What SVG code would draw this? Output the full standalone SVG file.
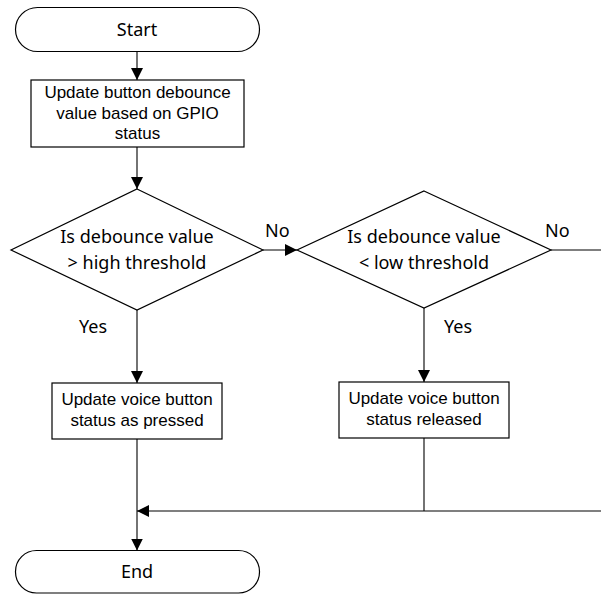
<svg xmlns="http://www.w3.org/2000/svg" width="601" height="594" viewBox="0 0 601 594">
<style>
.shape{fill:#fff;stroke:#000;stroke-width:1.2}
.conn{fill:none;stroke:#000;stroke-width:1.1}
.t1{font-family:"Noto Sans","Open Sans",sans-serif;font-size:18px;fill:#000;text-anchor:middle}
.t2{font-family:"Liberation Sans",Arial,sans-serif;font-size:17px;fill:#000;text-anchor:middle}
.lbl{font-family:"Noto Sans","Open Sans",sans-serif;font-size:18px;fill:#000}
</style>
<defs>
<marker id="arr" viewBox="0 0 12 12" refX="12" refY="6" markerWidth="12" markerHeight="12" markerUnits="userSpaceOnUse" orient="auto">
<path d="M0,0 L12,6 L0,12 z" fill="#000"/>
</marker>
</defs>
<rect width="601" height="594" fill="#fff"/>
<g id="connectors">
<path class="conn" d="M137,51.5 V80" marker-end="url(#arr)"/>
<path class="conn" d="M137,147 V189" marker-end="url(#arr)"/>
<path class="conn" d="M263,250 H297" marker-end="url(#arr)"/>
<path class="conn" d="M551,250 H601"/>
<path class="conn" d="M137,310 V383" marker-end="url(#arr)"/>
<path class="conn" d="M424,308 V382" marker-end="url(#arr)"/>
<path class="conn" d="M137,439 V550.5" marker-end="url(#arr)"/>
<path class="conn" d="M424,438 V511"/>
<path class="conn" d="M601,511 H137" marker-end="url(#arr)"/>
<text class="lbl" x="265" y="237">No</text>
<text class="lbl" x="545" y="237">No</text>
<text class="lbl" x="93" y="333" text-anchor="middle">Yes</text>
<text class="lbl" x="458" y="333" text-anchor="middle">Yes</text>
</g>
<g id="start">
<rect class="shape" x="15.5" y="7.5" width="244" height="44" rx="22" ry="22"/>
<text class="t1" x="137" y="36">Start</text>
</g>
<g id="update-debounce">
<rect class="shape" x="31" y="80" width="213" height="67"/>
<text class="t2" x="137.5" y="98">Update button debounce</text>
<text class="t2" x="137.5" y="119">value based on GPIO</text>
<text class="t2" x="137.5" y="139">status</text>
</g>
<g id="high-threshold">
<polygon class="shape" points="137,189 263,250 137,310 11,250"/>
<text class="t1" x="137" y="243">Is debounce value</text>
<text class="t1" x="137" y="269">&gt; high threshold</text>
</g>
<g id="low-threshold">
<polygon class="shape" points="424,191 551,250 424,308 297,250"/>
<text class="t1" x="424" y="243">Is debounce value</text>
<text class="t1" x="424" y="269">&lt; low threshold</text>
</g>
<g id="pressed">
<rect class="shape" x="52" y="383" width="170" height="56"/>
<text class="t2" x="137" y="405">Update voice button</text>
<text class="t2" x="137" y="426">status as pressed</text>
</g>
<g id="released">
<rect class="shape" x="339" y="382" width="170" height="56"/>
<text class="t2" x="424" y="404">Update voice button</text>
<text class="t2" x="424" y="425">status released</text>
</g>
<g id="end">
<rect class="shape" x="15.5" y="550.5" width="244" height="42.5" rx="21" ry="21"/>
<text class="t1" x="137" y="578">End</text>
</g>
</svg>
